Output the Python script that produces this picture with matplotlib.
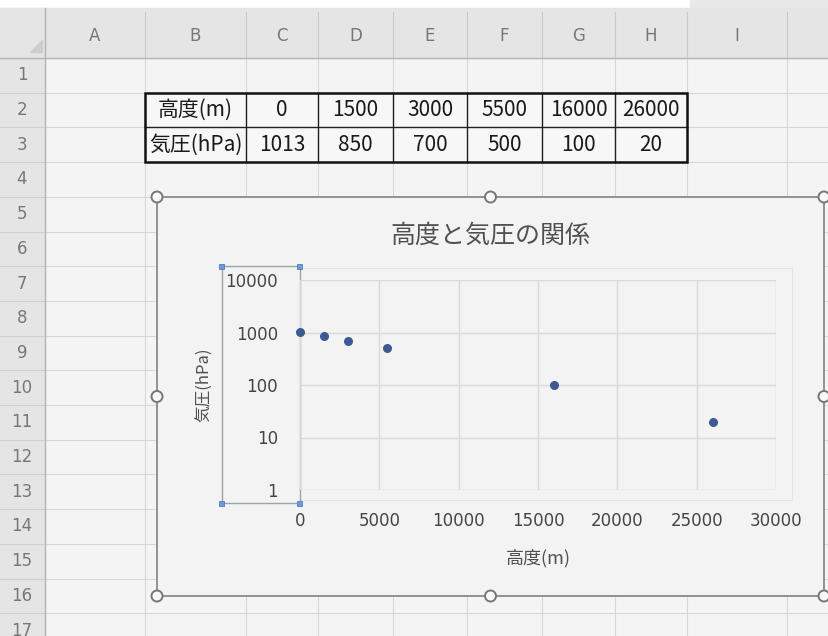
import matplotlib.pyplot as plt
from matplotlib import ticker
from matplotlib.patches import Rectangle, Circle

plt.rcParams['font.family'] = ['Noto Sans CJK JP', 'DejaVu Sans']

# worksheet contents (rows 2 and 3)
row_labels = ['高度(m)', '気圧(hPa)']
heights = [0, 1500, 3000, 5500, 16000, 26000]
pressures = [1013, 850, 700, 500, 100, 20]

# chart texts and axis ticks
chart_title = '高度と気圧の関係'
x_title = '高度(m)'
y_title = '気圧(hPa)'
x_ticks = [0, 5000, 10000, 15000, 20000, 25000, 30000]
y_ticks = [1, 10, 100, 1000, 10000]

# sheet geometry in pixels
col_letters = ['A', 'B', 'C', 'D', 'E', 'F', 'G', 'H', 'I']
col_edges = [45, 145, 246, 318, 393, 467, 542, 615, 687, 787, 829]
row_top = 58
row_h = 34.7
n_rows = 17

W, H = 829, 636
fig = plt.figure(figsize=(W / 100, H / 100), dpi=100)

# background axes in pixel units, origin top-left
bg = fig.add_axes([0, 0, 1, 1])
bg.set_xlim(0, W)
bg.set_ylim(H, 0)
bg.axis('off')

sheet_color = '#f4f4f4'
head_color = '#e5e5e5'
grid_color = '#d7d7d7'
bg.add_patch(Rectangle((0, 0), W, H, color=sheet_color, zorder=0))
bg.add_patch(Rectangle((0, 0), W, 8, color='white', zorder=1))
bg.add_patch(Rectangle((690, 0), 139, 12, color='#e8e8e8', zorder=1))
bg.add_patch(Rectangle((0, 8), W, row_top - 8, color=head_color, zorder=1))
bg.add_patch(Rectangle((0, 8), col_edges[0], H, color=head_color, zorder=1))

# cell grid
for x in col_edges[:-1]:
    bg.plot([x, x], [row_top, H], color=grid_color, lw=0.8, zorder=2)
    bg.plot([x, x], [12, row_top], color='#c9c9c9', lw=0.8, zorder=2)
for i in range(n_rows + 1):
    y = row_top + i * row_h
    bg.plot([col_edges[0], W], [y, y], color=grid_color, lw=0.8, zorder=2)
    bg.plot([0, col_edges[0]], [y, y], color='#cfcfcf', lw=0.8, zorder=2)
bg.plot([0, W], [row_top, row_top], color='#b5b5b5', lw=1.0, zorder=2)
bg.plot([col_edges[0], col_edges[0]], [8, H], color='#b5b5b5', lw=1.0, zorder=2)
bg.fill([30, 42, 42], [52, 52, 40], color='#cdcdcd', zorder=2)

# headers
for i, letter in enumerate(col_letters):
    cx = (col_edges[i] + col_edges[i + 1]) / 2
    bg.text(cx, 36, letter, ha='center', va='center', fontsize=12,
            color='#777777', family='DejaVu Sans', zorder=3)
for i in range(n_rows):
    cy = row_top + (i + 0.5) * row_h
    bg.text(22, cy, str(i + 1), ha='center', va='center', fontsize=12,
            color='#777777', family='DejaVu Sans', zorder=3)

# data table in B2:H3
t_left, t_right = col_edges[1], col_edges[8]
t_top, t_bot = row_top + row_h, row_top + 3 * row_h
bg.add_patch(Rectangle((t_left, t_top), t_right - t_left, t_bot - t_top,
                       facecolor='#f7f7f7', edgecolor='none', zorder=3))
for x in col_edges[2:8]:
    bg.plot([x, x], [t_top, t_bot], color='#202020', lw=1.0, zorder=4)
bg.plot([t_left, t_right], [t_top + row_h] * 2, color='#202020', lw=1.0, zorder=4)
bg.add_patch(Rectangle((t_left, t_top), t_right - t_left, t_bot - t_top,
                       facecolor='none', edgecolor='#111111', lw=1.8, zorder=5))
table_rows = [heights, pressures]
for r, (label, values) in enumerate(zip(row_labels, table_rows)):
    cy = t_top + (r + 0.5) * row_h
    bg.text((col_edges[1] + col_edges[2]) / 2, cy, label, ha='center',
            va='center', fontsize=15, color='#1a1a1a', zorder=6)
    for c, v in enumerate(values):
        cx = (col_edges[c + 2] + col_edges[c + 3]) / 2
        bg.text(cx, cy, str(v), ha='center', va='center', fontsize=15,
                color='#1a1a1a', zorder=6)

# chart area
cx0, cy0, cx1, cy1 = 157, 197, 824, 596
bg.add_patch(Rectangle((cx0, cy0), cx1 - cx0, cy1 - cy0, facecolor='#f3f3f3',
                       edgecolor='#8a8a8a', lw=1.3, zorder=7))
mx, my = (cx0 + cx1) / 2, (cy0 + cy1) / 2
for hx, hy in [(cx0, cy0), (mx, cy0), (cx1, cy0), (cx0, my), (cx1, my),
               (cx0, cy1), (mx, cy1), (cx1, cy1)]:
    bg.add_patch(Circle((hx, hy), 5.5, facecolor='#f8f8f8',
                        edgecolor='#777777', lw=1.4, zorder=9))

# faint plot-area outline
bg.add_patch(Rectangle((300, 268), 492, 232, facecolor='none',
                       edgecolor='#e4e4e4', lw=0.8, zorder=8))

# selected vertical axis box
px0, px1, py0, py1 = 222, 300, 266, 503
bg.add_patch(Rectangle((px0, py0), px1 - px0, py1 - py0, facecolor='none',
                       edgecolor='#9aa3ae', lw=1.0, zorder=8))
for sx, sy in [(px0, py0), (px1, py0), (px0, py1), (px1, py1)]:
    bg.add_patch(Rectangle((sx - 2.5, sy - 2.5), 5, 5, facecolor='#6f9bd3',
                           edgecolor='#4f7fbf', lw=0.6, zorder=9))

# chart texts
bg.text(mx, 236, chart_title, ha='center', va='center', fontsize=18,
        color='#505050', zorder=10)
bg.text(538, 558, x_title, ha='center', va='center', fontsize=13,
        color='#505050', zorder=10)
bg.text(205, 385, y_title, ha='center', va='center', fontsize=12,
        rotation=90, color='#505050', zorder=10)

# scatter plot area
ax = fig.add_axes([300 / W, 1 - 490 / H, 476 / W, 210 / H])
ax.set_facecolor('none')
ax.set_yscale('log')
ax.set_xlim(0, 30000)
ax.set_ylim(1, 10000)
ax.xaxis.set_major_locator(ticker.FixedLocator(x_ticks))
ax.yaxis.set_major_locator(ticker.FixedLocator(y_ticks))
ax.yaxis.set_minor_locator(ticker.NullLocator())
ax.xaxis.set_major_formatter(ticker.FuncFormatter(lambda v, _: f'{v:g}'))
ax.yaxis.set_major_formatter(ticker.FuncFormatter(lambda v, _: f'{v:g}'))
ax.grid(True, color='#d9d9d9', lw=1.0)
ax.set_axisbelow(True)
for s in ax.spines.values():
    s.set_visible(False)
ax.tick_params(length=0, labelsize=12, labelcolor='#444444')
ax.tick_params(axis='x', pad=16)
ax.tick_params(axis='y', pad=16)
for lab in ax.get_xticklabels() + ax.get_yticklabels():
    lab.set_family('DejaVu Sans')

ax.scatter(heights, pressures, s=30, color='#3c5a93', zorder=5, clip_on=False)

fig.savefig('out.png', dpi=100)
